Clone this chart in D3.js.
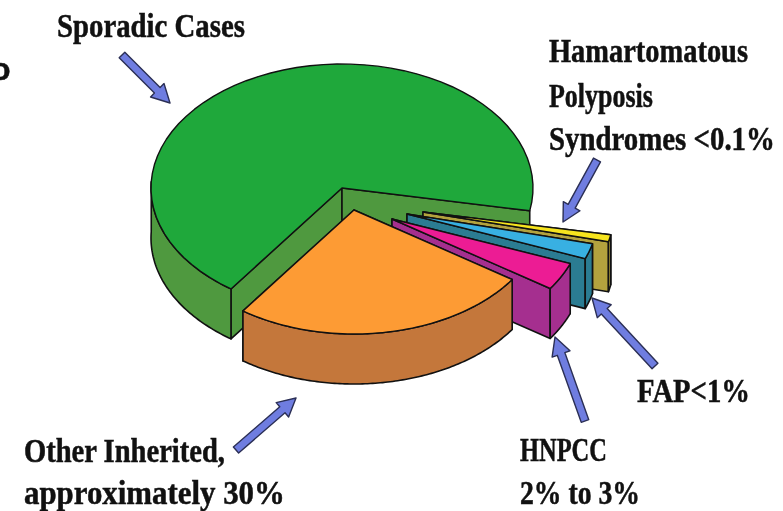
<!DOCTYPE html>
<html>
<head>
<meta charset="utf-8">
<script src="https://cdn.jsdelivr.net/npm/d3@7/dist/d3.min.js"></script>
<style>
  html, body { margin: 0; padding: 0; background: #fff; }
  svg { display: block; filter: blur(0.55px); }
  text { font-family: "Liberation Serif", serif; font-weight: bold; fill: #111; stroke: #111; stroke-width: 0.5px; }
</style>
</head>
<body>
<svg id="chart" width="783" height="511"></svg>
<script>
// slices in clockwise order, starting from the thin yellow one
var categories = ["Hamartomatous", "FAP", "HNPCC", "Other Inherited", "Sporadic"];
var shares = [0.9, 2.0, 3.6, 25.3, 67.8];  // as drawn, not as labelled

var topColors = ["#f6e41e", "#38b0e2", "#ec1c94", "#fd9b34", "#1fa83b"];
var wallColors = ["#b3a23e", "#2b7c92", "#a52f8f", "#c4773b", "#4f993f"];
// where each slice tip ended up after being pulled out
var tipX = [423, 407, 392, 354, 342];
var tipY = [212, 214, 219, 210, 188];

var svg = d3.select("#chart");
var depth = 50;

var xScale = d3.scaleLinear().domain([-1, 1]).range([-191, 191]);
var yScale = d3.scaleLinear().domain([-1, 1]).range([-124, 124]);

var pie = d3.pie().value(function(d) { return d; }).sort(null)
  .startAngle(Math.PI / 2 + 0.185)
  .endAngle(Math.PI / 2 + 0.185 + 2 * Math.PI);

// d3 pie angles start at 12 o'clock
function rim(a) {
  return [xScale(Math.sin(a)), yScale(-Math.cos(a))];
}

var line = d3.line();

function rimPoints(a0, a1) {
  return d3.range(0, 61).map(function(i) {
    return rim(a0 + (a1 - a0) * i / 60);
  });
}

function closed(pts, dx, dy) {
  return line(pts.map(function(p) { return [p[0] + dx, p[1] + dy]; })) + "Z";
}

var arcs = pie(shares);

// back to front
[4, 0, 1, 2, 3].forEach(function(i) {
  var d = arcs[i];
  var g = svg.append("g").attr("class", "slice").attr("data-name", categories[i]);
  var x = tipX[i], y = tipY[i];
  var pts = rimPoints(d.startAngle, d.endAngle);
  var first = pts[0], last = pts[pts.length - 1];

  function wall(points) {
    g.append("path")
      .attr("d", points)
      .attr("fill", wallColors[i])
      .attr("stroke", "#111")
      .attr("stroke-width", 1.6)
      .attr("stroke-linejoin", "round");
  }

  // cut faces
  wall(closed([[0, 0], first, [first[0], first[1] + depth], [0, depth]], x, y));
  wall(closed([[0, 0], last, [last[0], last[1] + depth], [0, depth]], x, y));

  // outer face, only the front part of the rim shows
  var front = [];
  var steps = 120;
  for (var k = 0; k <= steps; k++) {
    var a = d.startAngle + (d.endAngle - d.startAngle) * k / steps;
    if (-Math.cos(a) >= -0.02) front.push(rim(a));
  }
  if (i == 4) front = rimPoints(d.startAngle, Math.PI * 1.5 + 0.05);
  var lower = front.map(function(p) { return [p[0], p[1] + depth]; }).reverse();
  wall(closed(front.concat(lower), x, y));

  // top
  g.append("path")
    .attr("d", closed([[0, 0]].concat(pts), x, y))
    .attr("fill", topColors[i])
    .attr("stroke", "#111")
    .attr("stroke-width", 1.4)
    .attr("stroke-linejoin", "round");
});

// callout arrows, tail then tip
var arrowTails = [[122, 55], [597, 160], [655, 366], [585, 421], [236, 450]];
var arrowTips = [[170, 103], [563, 222], [592, 298], [555, 337], [296, 398]];

arrowTails.forEach(function(t, i) {
  var h = arrowTips[i];
  var dx = h[0] - t[0], dy = h[1] - t[1];
  var len = Math.sqrt(dx * dx + dy * dy);
  var ux = dx / len, uy = dy / len;
  var head = 18, w = 4, hw = 9.5;
  var bx = h[0] - ux * head, by = h[1] - uy * head;
  var pts = [
    [t[0] - uy * w, t[1] + ux * w],
    [bx - uy * w, by + ux * w],
    [bx - uy * hw, by + ux * hw],
    h,
    [bx + uy * hw, by - ux * hw],
    [bx + uy * w, by - ux * w],
    [t[0] + uy * w, t[1] - ux * w]
  ];
  svg.append("path")
    .attr("d", line(pts) + "Z")
    .attr("fill", "#6f7de0")
    .attr("stroke", "#2b2f55")
    .attr("stroke-width", 1.4)
    .attr("stroke-linejoin", "round");
});

// labels, squeezed sideways because the scanned type is condensed
var labelText = ["Sporadic Cases", "Hamartomatous", "Polyposis", "Syndromes <0.1%", "FAP<1%", "HNPCC", "2% to 3%", "Other Inherited,", "approximately 30%"];
var labelX = [57, 549, 549, 549, 637, 520, 520, 24, 24];
var labelY = [37, 62, 107, 150, 402, 461, 504, 462, 504];
var labelW = [188, 199, 104, 226, 113, 87, 120, 201, 261];

labelText.forEach(function(t, i) {
  var label = svg.append("text")
    .attr("font-size", 33)
    .text(t);
  var natural = label.node().getComputedTextLength();
  label.attr("transform", "translate(" + labelX[i] + "," + labelY[i] + ") scale(" + (labelW[i] / natural) + ",1)");
});

// the cut off letter on the left edge
svg.append("text")
  .attr("x", -9)
  .attr("y", 80)
  .attr("font-size", 32)
  .style("font-family", "'Liberation Sans', sans-serif")
  .text("o");
</script>
</body>
</html>
